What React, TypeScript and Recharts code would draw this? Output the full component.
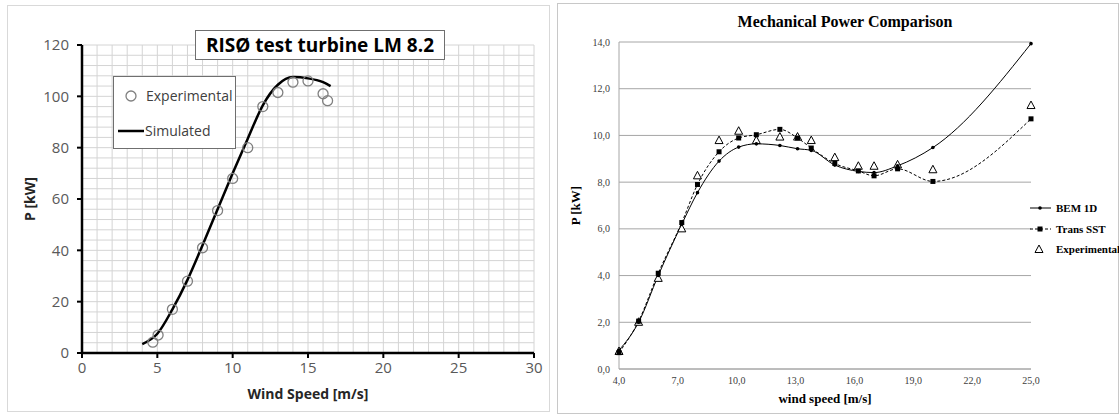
import React from 'react';
import { ComposedChart, Line, Scatter, XAxis, YAxis, CartesianGrid, ReferenceLine } from 'recharts';

// RISØ test turbine LM 8.2
const risoExpSpeed = [4.7, 5.05, 6, 7, 8, 9, 10, 11, 12, 13, 14, 15, 16, 16.3];
const risoExpPower = [4.2, 7, 17, 28, 41, 55.5, 68, 80, 96, 101.5, 105.5, 106, 101, 98.3];
const risoSimSpeed = [4, 5, 6, 7, 8, 9, 10, 11, 12, 13, 14, 15, 16, 16.5];
const risoSimPower = [3.5, 7.5, 17, 28.5, 42, 56, 70, 83.5, 96.5, 104.5, 107.5, 107, 105.5, 104];
const risoSpeedTicks = [0, 5, 10, 15, 20, 25, 30];
const risoPowerTicks = [0, 20, 40, 60, 80, 100, 120];
const risoMinorSpeed = Array.from({ length: 31 }, (_, i) => i);
const risoMinorPower = Array.from({ length: 31 }, (_, i) => i * 4);

// Mechanical Power Comparison
const mechSpeed = [4, 5, 6, 7.2, 8, 9.1, 10.1, 11, 12.2, 13.1, 13.8, 15, 16.2, 17, 18.2, 20, 25];
const bem1d = [0.8, 2.0, 4.0, 6.2, 7.55, 8.9, 9.5, 9.64, 9.57, 9.43, 9.36, 8.73, 8.46, 8.41, 8.7, 9.48, 13.93];
const transSst = [0.7, 2.05, 4.1, 6.27, 7.9, 9.3, 9.89, 10.03, 10.26, 9.89, 9.46, 8.8, 8.48, 8.27, 8.57, 8.03, 10.71];
const experimental = [0.75, 2.0, 3.88, 6.0, 8.27, 9.78, 10.18, 9.78, 9.93, 9.93, 9.78, 9.05, 8.68, 8.68, 8.74, 8.53, 11.28];
const mechSpeedTicks = [4, 7, 10, 13, 16, 19, 22, 25];
const mechPowerTicks = [0, 2, 4, 6, 8, 10, 12, 14];

const zip = (xs: number[], ys: number[]) => xs.map((x, i) => ({ x, y: ys[i] }));

const risoExpData = zip(risoExpSpeed, risoExpPower);
const risoSimData = zip(risoSimSpeed, risoSimPower);
const bemData = zip(mechSpeed, bem1d);
const transData = zip(mechSpeed, transSst);
const expData = zip(mechSpeed, experimental);

const sans = '"Open Sans", sans-serif';
const serif = '"Liberation Serif", "Times New Roman", serif';
const commaFmt = (v: number) => v.toFixed(1).replace('.', ',');

const HollowCircle = (props: any) => (
  <circle cx={props.cx} cy={props.cy} r={5} fill="none" stroke="#808080" strokeWidth={1.3} />
);

const Triangle = (props: any) => {
  const { cx, cy } = props;
  return (
    <polygon
      points={`${cx},${cy - 4.5} ${cx - 4},${cy + 3} ${cx + 4},${cy + 3}`}
      fill="#fff"
      stroke="#000"
      strokeWidth={1}
    />
  );
};

const SquareDot = (props: any) => {
  const { cx, cy, index } = props;
  return <rect key={`sq-${index}`} x={cx - 2.5} y={cy - 2.5} width={5} height={5} fill="#000" />;
};

const SmallDot = (props: any) => {
  const { cx, cy, index } = props;
  return <circle key={`dt-${index}`} cx={cx} cy={cy} r={1.8} fill="#000" />;
};

function RisoChart() {
  return (
    <div
      style={{
        position: 'absolute', left: 7, top: 5, width: 543, height: 407,
        border: '1px solid #d9d9d9', boxSizing: 'border-box', background: '#fff',
      }}
    >
      <ComposedChart width={541} height={405} margin={{ top: 39, right: 15, bottom: 0, left: 0 }}>
        {risoMinorSpeed.map((v) => (
          <ReferenceLine key={`vx-${v}`} x={v} stroke="#d4d4d4" strokeWidth={1} />
        ))}
        {risoMinorPower.map((v) => (
          <ReferenceLine key={`hy-${v}`} y={v} stroke="#d4d4d4" strokeWidth={1} />
        ))}
        <XAxis
          type="number"
          dataKey="x"
          domain={[0, 30]}
          ticks={risoSpeedTicks}
          height={58}
          axisLine={{ stroke: '#000', strokeWidth: 2.5 }}
          tickLine={{ stroke: '#000', strokeWidth: 2 }}
          tickSize={5}
          tickMargin={4}
          tick={{ fill: '#595959', fontSize: 15, fontFamily: sans }}
          label={{
            value: 'Wind Speed [m/s]',
            position: 'insideBottom',
            offset: 12,
            style: { fill: '#262626', fontSize: 14, fontWeight: 700, fontFamily: sans },
          }}
        />
        <YAxis
          type="number"
          domain={[0, 120]}
          ticks={risoPowerTicks}
          width={74}
          axisLine={{ stroke: '#000', strokeWidth: 2.5 }}
          tickLine={{ stroke: '#000', strokeWidth: 2 }}
          tickSize={5}
          tickMargin={8}
          tick={{ fill: '#595959', fontSize: 15, fontFamily: sans }}
          label={{
            value: 'P [kW]',
            angle: -90,
            position: 'insideLeft',
            offset: 22,
            style: { textAnchor: 'middle', fill: '#262626', fontSize: 14, fontWeight: 700, fontFamily: sans },
          }}
        />
        <Line
          data={risoSimData}
          dataKey="y"
          type="monotone"
          stroke="#000"
          strokeWidth={2.5}
          dot={false}
          isAnimationActive={false}
        />
        <Scatter data={risoExpData} dataKey="y" shape={HollowCircle} isAnimationActive={false} />
      </ComposedChart>
      <div
        style={{
          position: 'absolute', left: 187, top: 24, width: 250, height: 30,
          border: '1px solid #6f6f6f', background: '#fff', boxSizing: 'border-box',
          fontFamily: sans, fontWeight: 700, fontSize: 19, color: '#000',
          display: 'flex', alignItems: 'center', justifyContent: 'center',
        }}
      >
        RISØ test turbine LM 8.2
      </div>
      <div
        style={{
          position: 'absolute', left: 105, top: 70, width: 123, height: 73,
          border: '1px solid #6f6f6f', background: '#fff', boxSizing: 'border-box',
          fontFamily: sans, fontSize: 14, color: '#404040',
        }}
      >
        <svg width={30} height={73} style={{ position: 'absolute', left: 0, top: 0 }}>
          <circle cx={17} cy={19} r={5} fill="none" stroke="#808080" strokeWidth={1.3} />
          <line x1={4} x2={30} y1={54} y2={54} stroke="#000" strokeWidth={2.5} />
        </svg>
        <span style={{ position: 'absolute', left: 32, top: 9, lineHeight: '20px' }}>Experimental</span>
        <span style={{ position: 'absolute', left: 31, top: 44, lineHeight: '20px' }}>Simulated</span>
      </div>
    </div>
  );
}

function MechChart() {
  return (
    <div
      style={{
        position: 'absolute', left: 557, top: 3, width: 562, height: 411,
        border: '1px solid #c8c8c8', boxSizing: 'border-box', background: '#fff',
      }}
    >
      <ComposedChart width={560} height={409} margin={{ top: 38, right: 87, bottom: 0, left: 0 }}>
        <CartesianGrid vertical={false} stroke="#a6a6a6" />
        <XAxis
          type="number"
          dataKey="x"
          domain={[4, 25]}
          ticks={mechSpeedTicks}
          tickFormatter={commaFmt}
          height={44}
          axisLine={{ stroke: '#a6a6a6' }}
          tickLine={false}
          tickSize={0}
          tickMargin={8}
          tick={{ fill: '#404040', fontSize: 10, fontFamily: serif }}
          label={{
            value: 'wind speed [m/s]',
            position: 'insideBottom',
            offset: 10,
            style: { fill: '#000', fontSize: 13, fontWeight: 700, fontFamily: serif },
          }}
        />
        <YAxis
          type="number"
          domain={[0, 14]}
          ticks={mechPowerTicks}
          tickFormatter={commaFmt}
          width={61}
          axisLine={{ stroke: '#a6a6a6' }}
          tickLine={false}
          tickSize={0}
          tickMargin={9}
          tick={{ fill: '#404040', fontSize: 10, fontFamily: serif }}
          label={{
            value: 'P [kW]',
            angle: -90,
            position: 'insideLeft',
            offset: 17,
            style: { textAnchor: 'middle', fill: '#000', fontSize: 13, fontWeight: 700, fontFamily: serif },
          }}
        />
        <Scatter data={expData} dataKey="y" name="Experimental" shape={Triangle} isAnimationActive={false} />
        <Line
          data={bemData}
          dataKey="y"
          name="BEM 1D"
          type="monotone"
          stroke="#000"
          strokeWidth={1}
          dot={SmallDot}
          isAnimationActive={false}
        />
        <Line
          data={transData}
          dataKey="y"
          name="Trans SST"
          type="monotone"
          stroke="#000"
          strokeWidth={1}
          strokeDasharray="3 2"
          dot={SquareDot}
          isAnimationActive={false}
        />
      </ComposedChart>
      <div
        style={{
          position: 'absolute', left: 0, top: 9, width: 574, textAlign: 'center',
          fontFamily: serif, fontWeight: 700, fontSize: 16, color: '#000', lineHeight: '18px',
        }}
      >
        Mechanical Power Comparison
      </div>
      <div
        style={{
          position: 'absolute', left: 471, top: 196, width: 90, height: 60,
          fontFamily: serif, fontWeight: 700, fontSize: 11, color: '#000',
        }}
      >
        <svg width={24} height={60} style={{ position: 'absolute', left: 0, top: 0 }}>
          <line x1={1} x2={22} y1={8} y2={8} stroke="#000" strokeWidth={1} />
          <circle cx={11} cy={8} r={1.8} fill="#000" />
          <line x1={1} x2={22} y1={29} y2={29} stroke="#000" strokeWidth={1} strokeDasharray="3 2" />
          <rect x={8.5} y={26.5} width={5} height={5} fill="#000" />
          <polygon points="10,45 6,52.5 14,52.5" fill="#fff" stroke="#000" strokeWidth={1} />
        </svg>
        <span style={{ position: 'absolute', left: 27, top: 1, lineHeight: '14px' }}>BEM 1D</span>
        <span style={{ position: 'absolute', left: 27, top: 22, lineHeight: '14px' }}>Trans SST</span>
        <span style={{ position: 'absolute', left: 27, top: 42, lineHeight: '14px' }}>Experimental</span>
      </div>
    </div>
  );
}

export default function App() {
  return (
    <div style={{ position: 'absolute', left: 0, top: 0, width: 1119, height: 416, background: '#fff' }}>
      <RisoChart />
      <MechChart />
    </div>
  );
}
